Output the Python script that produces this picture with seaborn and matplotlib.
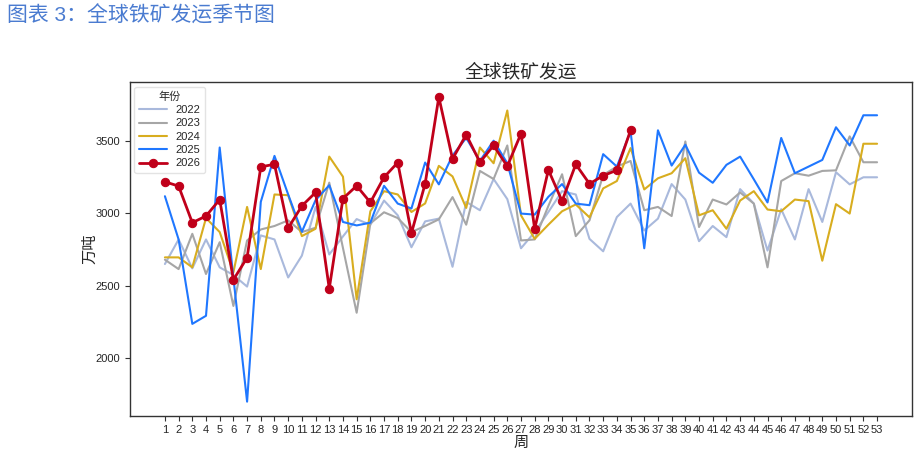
import matplotlib
matplotlib.use('Agg')
import matplotlib.pyplot as plt
import pandas as pd
import seaborn as sns

# 数据：各年份每周全球铁矿发运量（万吨）
weeks = list(range(1, 54))

y2022 = [2649, 2819, 2619, 2819, 2626, 2573, 2493, 2847, 2819, 2556,
         2707, 3044, 2715, 2840, 2960, 2920, 3088, 2986, 2765, 2944,
         2963, 2630, 3079, 3021, 3237, 3098, 2758, 2870, 3009, 3153,
         3130, 2823, 2737, 2974, 3067, 2881, 2963, 3202, 3095, 2807,
         2912, 2835, 3167, 3067, 2742, 3028, 2819, 3167, 2940, 3284,
         3200, 3249, 3249]

y2023 = [2679, 2614, 2858, 2580, 2800, 2359, 2812, 2888, 2912, 2951,
         2870, 2900, 3212, 2760, 2312, 2930, 3007, 2967, 2870, 2912,
         2958, 3112, 2921, 3293, 3237, 3469, 2812, 2819, 3051, 3270,
         2842, 2951, 3265, 3323, 3362, 3021, 3044, 2981, 3497, 2905,
         3095, 3061, 3144, 3067, 2626, 3223, 3277, 3260, 3293, 3297,
         3532, 3353, 3353]

y2024 = [2695, 2695, 2626, 2967, 2870, 2591, 3044, 2614, 3130, 3125,
         2842, 2893, 3392, 3253, 2405, 3014, 3153, 3130, 3009, 3068,
         3328, 3255, 3037, 3455, 3346, 3711, 2986, 2823, 2921, 3014,
         3061, 2972, 3172, 3223, 3451, 3165, 3242, 3277, 3381, 2986,
         3021, 2893, 3088, 3153, 3026, 3014, 3095, 3084, 2672, 3063,
         2998, 3481, 3481]

y2025 = [3118, 2819, 2235, 2291, 3455, 2554, 1697, 3079, 3397, 3130,
         2872, 3091, 3194, 2940, 2916, 2935, 3190, 3067, 3033, 3351,
         3200, 3400, 3521, 3362, 3502, 3346, 2998, 2991, 3114, 3202,
         3067, 3056, 3409, 3323, 3567, 2758, 3574, 3330, 3474, 3281,
         3211, 3335, 3392, 3235, 3075, 3521, 3277, 3323, 3369, 3595,
         3469, 3678, 3678]

y2026 = [3218, 3188, 2935, 2981, 3095, 2540, 2693, 3321, 3339, 2898,
         3051, 3144, 2479, 3102, 3190, 3075, 3249, 3351, 2863, 3204,
         3804, 3376, 3544, 3353, 3469, 3325, 3551, 2893, 3300, 3084,
         3339, 3204, 3260, 3298, 3574]

years = ['2022', '2023', '2024', '2025', '2026']
series = [y2022, y2023, y2024, y2025, y2026]
colors = ['#a9b9dc', '#a6a6a6', '#d8ad1f', '#1f77ff', '#c0001a']

sns.set_style('white')
plt.rcParams['font.family'] = ['Liberation Sans', 'Noto Sans CJK SC', 'DejaVu Sans']

fig = plt.figure(figsize=(9.2, 4.54), dpi=100)
ax = fig.add_axes([0.1413, 0.0844, 0.8500, 0.7340])

for yr, vals, c in zip(years, series, colors):
    df = pd.DataFrame({'周': weeks[:len(vals)], '万吨': vals})
    if yr == '2026':
        sns.lineplot(data=df, x='周', y='万吨', ax=ax, color=c, linewidth=2,
                     marker='o', markersize=6, markeredgecolor=c, label=yr)
    else:
        sns.lineplot(data=df, x='周', y='万吨', ax=ax, color=c, linewidth=1.5, label=yr)

ax.set_xlim(-1.55, 55.55)
ax.set_ylim(1600, 3905)
ax.set_xticks(weeks)
ax.set_xticklabels([str(w) for w in weeks], fontsize=8)
ax.set_yticks([2000, 2500, 3000, 3500])
ax.tick_params(axis='y', labelsize=8)
ax.tick_params(axis='both', direction='out', length=3.5, width=0.8, color='#333333', bottom=True, left=True)
for s in ax.spines.values():
    s.set_color('#333333')
    s.set_linewidth(1)

ax.set_title('全球铁矿发运', fontsize=13.5, pad=4)
ax.set_xlabel('周', fontsize=11, labelpad=0)
ax.set_ylabel('万吨', fontsize=11, labelpad=-1)

leg = ax.legend(title='年份', loc='upper left', fontsize=8, title_fontsize=8,
                frameon=True, borderaxespad=0.4, handlelength=2.5, labelspacing=0.3)
leg.get_frame().set_edgecolor('#dddddd')

fig.text(0.008, 0.965, '图表 3：全球铁矿发运季节图', fontsize=15, color='#4a7bd0',
         ha='left', va='center')

fig.savefig('out.png', dpi=100)
